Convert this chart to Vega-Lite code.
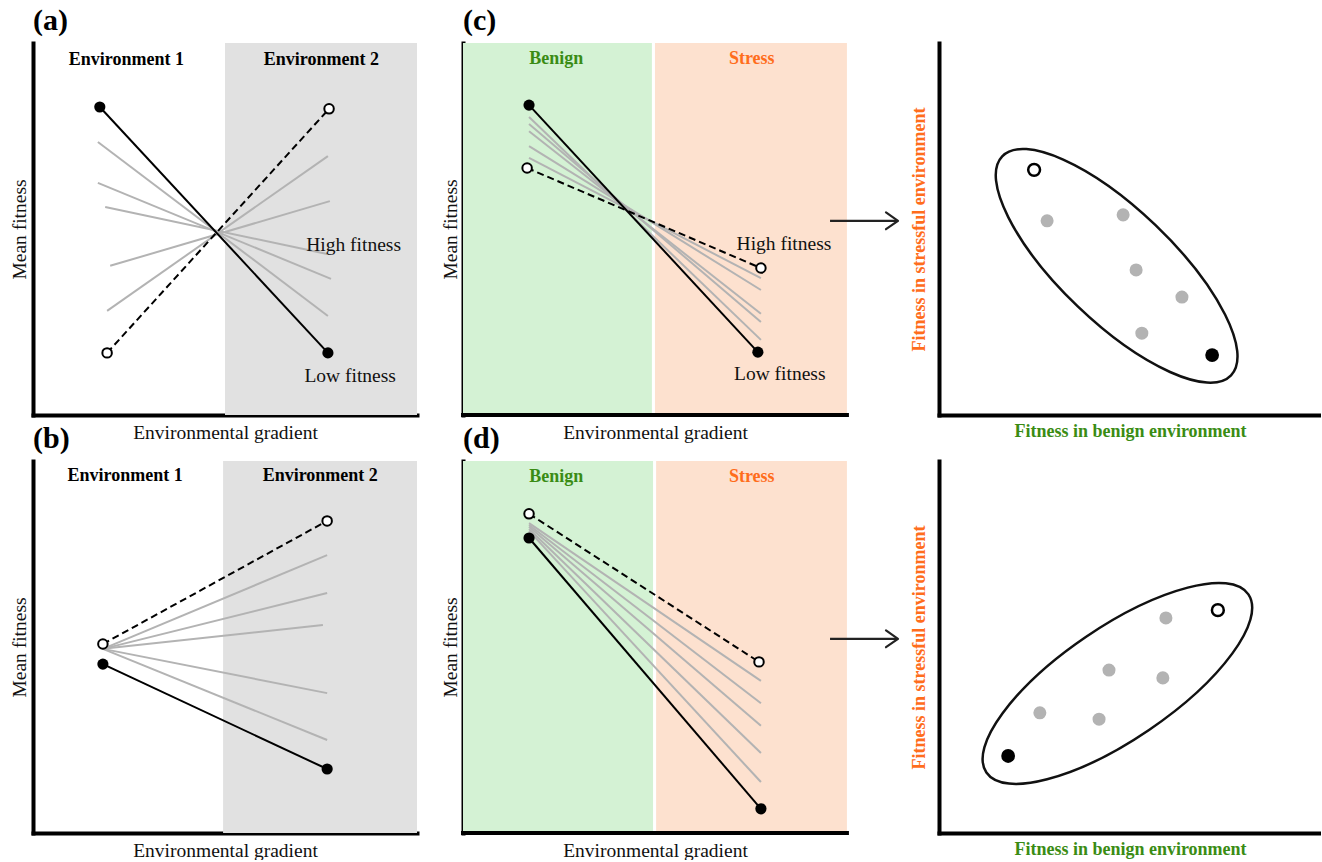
{
  "$schema": "https://vega.github.io/schema/vega-lite/v6.json",
  "padding": {"left": 9, "top": 6, "right": 0, "bottom": 0},
  "config": {
    "view": {"stroke": null},
    "font": "Liberation Serif",
    "axis": {"labels": false, "ticks": false, "grid": false, "domainColor": "#000", "domainWidth": 4, "domainCap": "square", "zindex": 1, "titleFont": "Liberation Serif", "titleFontSize": 19.5, "titleFontWeight": "normal", "titleColor": "#111"},
    "title": {"anchor": "start", "frame": "group", "font": "Liberation Serif", "fontSize": 30, "fontWeight": "bold", "baseline": "alphabetic", "offset": 7, "color": "#000"}
  },
  "datasets": {
    "a": [
      {"part": "bg", "x": 50, "x2": 100, "y": 0, "y2": 100},
      {"part": "grey", "id": "g1", "x": 16.9, "y": 73.4}, {"part": "grey", "id": "g1", "x": 76.8, "y": 26.6},
      {"part": "grey", "id": "g2", "x": 16.9, "y": 62.4}, {"part": "grey", "id": "g2", "x": 77.6, "y": 36.6},
      {"part": "grey", "id": "g3", "x": 18.8, "y": 55.9}, {"part": "grey", "id": "g3", "x": 76.6, "y": 43.3},
      {"part": "grey", "id": "g4", "x": 20.1, "y": 40.1}, {"part": "grey", "id": "g4", "x": 77.3, "y": 57.5},
      {"part": "grey", "id": "g5", "x": 19.3, "y": 28.0}, {"part": "grey", "id": "g5", "x": 76.8, "y": 69.6},
      {"part": "solid", "x": 17.4, "y": 82.8}, {"part": "solid", "x": 76.8, "y": 16.7},
      {"part": "dashed", "x": 19.3, "y": 16.7}, {"part": "dashed", "x": 77.1, "y": 82.3},
      {"part": "fill", "x": 17.4, "y": 82.8}, {"part": "fill", "x": 76.8, "y": 16.7},
      {"part": "open", "x": 19.3, "y": 16.7}, {"part": "open", "x": 77.1, "y": 82.3},
      {"part": "head", "x": 24.3, "y": 95.3, "label": "Environment 1"}, {"part": "head", "x": 75.1, "y": 95.3, "label": "Environment 2"},
      {"part": "note", "x": 83.5, "y": 45.6, "label": "High fitness"}, {"part": "note", "x": 82.6, "y": 10.6, "label": "Low fitness"}
    ],
    "b": [
      {"part": "bg", "x": 49.5, "x2": 100, "y": 0, "y2": 100},
      {"part": "grey", "id": "g1", "x": 18.2, "y": 49.5}, {"part": "grey", "id": "g1", "x": 76.6, "y": 74.7},
      {"part": "grey", "id": "g2", "x": 18.2, "y": 49.5}, {"part": "grey", "id": "g2", "x": 76.6, "y": 64.5},
      {"part": "grey", "id": "g3", "x": 18.2, "y": 49.5}, {"part": "grey", "id": "g3", "x": 75.5, "y": 55.9},
      {"part": "grey", "id": "g4", "x": 18.2, "y": 49.5}, {"part": "grey", "id": "g4", "x": 76.6, "y": 37.6},
      {"part": "grey", "id": "g5", "x": 18.2, "y": 49.5}, {"part": "grey", "id": "g5", "x": 76.6, "y": 25.0},
      {"part": "solid", "x": 18.2, "y": 45.4}, {"part": "solid", "x": 76.6, "y": 17.2},
      {"part": "dashed", "x": 18.2, "y": 50.8}, {"part": "dashed", "x": 76.6, "y": 83.9},
      {"part": "fill", "x": 18.2, "y": 45.4}, {"part": "fill", "x": 76.6, "y": 17.2},
      {"part": "open", "x": 18.2, "y": 50.8}, {"part": "open", "x": 76.6, "y": 83.9},
      {"part": "head", "x": 24.0, "y": 96.0, "label": "Environment 1"}, {"part": "head", "x": 74.8, "y": 96.0, "label": "Environment 2"}
    ],
    "c": [
      {"part": "bg", "zone": "benign", "x": 0, "x2": 49.2, "y": 0, "y2": 100},
      {"part": "bg", "zone": "stress", "x": 50.0, "x2": 100, "y": 0, "y2": 100},
      {"part": "grey", "id": "g1", "x": 17.2, "y": 80.1}, {"part": "grey", "id": "g1", "x": 77.6, "y": 20.2},
      {"part": "grey", "id": "g2", "x": 17.2, "y": 78.2}, {"part": "grey", "id": "g2", "x": 77.6, "y": 25.0},
      {"part": "grey", "id": "g3", "x": 17.2, "y": 76.3}, {"part": "grey", "id": "g3", "x": 77.6, "y": 27.2},
      {"part": "grey", "id": "g4", "x": 17.2, "y": 72.3}, {"part": "grey", "id": "g4", "x": 77.6, "y": 33.6},
      {"part": "grey", "id": "g5", "x": 17.2, "y": 69.1}, {"part": "grey", "id": "g5", "x": 77.6, "y": 36.8},
      {"part": "solid", "x": 17.2, "y": 83.3}, {"part": "solid", "x": 76.8, "y": 16.9},
      {"part": "dashed", "x": 16.7, "y": 66.4}, {"part": "dashed", "x": 77.6, "y": 39.5},
      {"part": "fill", "x": 17.2, "y": 83.3}, {"part": "fill", "x": 76.8, "y": 16.9},
      {"part": "open", "x": 16.7, "y": 66.4}, {"part": "open", "x": 77.6, "y": 39.5},
      {"part": "benign", "x": 24.3, "y": 95.7, "label": "Benign"}, {"part": "stress", "x": 75.2, "y": 95.7, "label": "Stress"},
      {"part": "note", "x": 83.6, "y": 46.1, "label": "High fitness"}, {"part": "note", "x": 82.5, "y": 10.9, "label": "Low fitness"},
      {"part": "arrow", "x": 95.6, "x2": 112.9, "y": 52.2}, {"part": "head2", "x": 113.3, "y": 52.2}
    ],
    "d": [
      {"part": "bg", "zone": "benign", "x": 0, "x2": 49.5, "y": 0, "y2": 100},
      {"part": "bg", "zone": "stress", "x": 50.3, "x2": 100, "y": 0, "y2": 100},
      {"part": "grey", "id": "g1", "x": 17.2, "y": 83.3}, {"part": "grey", "id": "g1", "x": 77.6, "y": 40.9},
      {"part": "grey", "id": "g2", "x": 17.2, "y": 82.8}, {"part": "grey", "id": "g2", "x": 77.6, "y": 34.9},
      {"part": "grey", "id": "g3", "x": 17.2, "y": 82.3}, {"part": "grey", "id": "g3", "x": 77.6, "y": 28.8},
      {"part": "grey", "id": "g4", "x": 17.2, "y": 81.7}, {"part": "grey", "id": "g4", "x": 77.6, "y": 21.5},
      {"part": "grey", "id": "g5", "x": 17.2, "y": 81.2}, {"part": "grey", "id": "g5", "x": 77.6, "y": 13.7},
      {"part": "solid", "x": 17.2, "y": 79.3}, {"part": "solid", "x": 77.6, "y": 6.5},
      {"part": "dashed", "x": 17.2, "y": 85.8}, {"part": "dashed", "x": 77.1, "y": 46.0},
      {"part": "fill", "x": 17.2, "y": 79.3}, {"part": "fill", "x": 77.6, "y": 6.5},
      {"part": "open", "x": 17.2, "y": 85.8}, {"part": "open", "x": 77.1, "y": 46.0},
      {"part": "benign", "x": 24.3, "y": 95.7, "label": "Benign"}, {"part": "stress", "x": 75.2, "y": 95.7, "label": "Stress"},
      {"part": "arrow", "x": 95.6, "x2": 112.9, "y": 52.2}, {"part": "head2", "x": 113.3, "y": 52.2}
    ],
    "e": [
      {"part": "ell", "x": 46.5, "y": 40.1},
      {"part": "grey", "x": 28.3, "y": 52.2}, {"part": "grey", "x": 48.2, "y": 53.8}, {"part": "grey", "x": 51.6, "y": 39.0},
      {"part": "grey", "x": 63.6, "y": 31.7}, {"part": "grey", "x": 53.1, "y": 22.0},
      {"part": "fill", "x": 71.5, "y": 16.1},
      {"part": "open", "x": 24.9, "y": 65.9}
    ],
    "f": [
      {"part": "ell", "x": 46.7, "y": 40.2},
      {"part": "grey", "x": 59.4, "y": 57.8}, {"part": "grey", "x": 44.5, "y": 43.8}, {"part": "grey", "x": 58.6, "y": 41.7},
      {"part": "grey", "x": 26.4, "y": 32.3}, {"part": "grey", "x": 41.9, "y": 30.6},
      {"part": "fill", "x": 18.1, "y": 20.7},
      {"part": "open", "x": 73.0, "y": 59.9}
    ]
  },
  "columns": 3,
  "spacing": 46,
  "bounds": "flush",
  "align": "each",
  "concat": [
    {
      "width": 384, "height": 372,
      "title": {"text": "(a)"},
      "encoding": {
        "x": {"field": "x", "type": "quantitative", "scale": {"domain": [0, 100]}, "axis": {"title": "Environmental gradient", "titlePadding": 8.5}},
        "y": {"field": "y", "type": "quantitative", "scale": {"domain": [0, 100]}, "axis": {"title": "Mean fitness", "titlePadding": 4}}
      },
      "layer": [
        {"data": {"name": "a"}, "transform": [{"filter": "datum.part == 'bg'"}], "mark": {"type": "rect", "color": "#e1e1e1"}, "encoding": {"x2": {"field": "x2"}, "y2": {"field": "y2"}}},
        {"data": {"name": "a"}, "transform": [{"filter": "datum.part == 'grey'"}], "mark": {"type": "line", "color": "#b3b3b3", "strokeWidth": 2}, "encoding": {"detail": {"field": "id"}}},
        {"data": {"name": "a"}, "transform": [{"filter": "datum.part == 'solid'"}], "mark": {"type": "line", "color": "#000", "strokeWidth": 2}, "encoding": {}},
        {"data": {"name": "a"}, "transform": [{"filter": "datum.part == 'dashed'"}], "mark": {"type": "line", "color": "#000", "strokeWidth": 2, "strokeDash": [7, 4]}, "encoding": {}},
        {"data": {"name": "a"}, "transform": [{"filter": "datum.part == 'fill'"}], "mark": {"type": "point", "shape": "circle", "filled": true, "color": "#000", "size": 125, "opacity": 1}},
        {"data": {"name": "a"}, "transform": [{"filter": "datum.part == 'open'"}], "mark": {"type": "point", "shape": "circle", "filled": true, "fill": "#fff", "stroke": "#000", "strokeWidth": 2, "size": 90, "opacity": 1}},
        {"data": {"name": "a"}, "transform": [{"filter": "datum.part == 'head'"}], "mark": {"type": "text", "font": "Liberation Serif", "fontWeight": "bold", "fontSize": 18, "baseline": "middle", "color": "#000"}, "encoding": {"text": {"field": "label"}}},
        {"data": {"name": "a"}, "transform": [{"filter": "datum.part == 'note'"}], "mark": {"type": "text", "font": "Liberation Serif", "fontSize": 19.5, "baseline": "middle", "color": "#111"}, "encoding": {"text": {"field": "label"}}}
      ]
    },
    {
      "width": 430, "height": 372,
      "title": {"text": "(c)"},
      "encoding": {
        "x": {"field": "x", "type": "quantitative", "scale": {"domain": [0, 112]}, "axis": {"title": "Environmental gradient", "titlePadding": 8.5, "domain": false, "titleX": 192}},
        "y": {"field": "y", "type": "quantitative", "scale": {"domain": [0, 100]}, "axis": {"title": "Mean fitness", "titlePadding": 3}}
      },
      "layer": [
        {"data": {"name": "c"}, "transform": [{"filter": "datum.part == 'bg'"}], "mark": {"type": "rect"}, "encoding": {"x2": {"field": "x2"}, "y2": {"field": "y2"}, "color": {"field": "zone", "type": "nominal", "scale": {"domain": ["benign", "stress"], "range": ["#d4f2d4", "#fde1cf"]}, "legend": null}}},
        {"data": {"values": [{"x": 0, "x2": 100, "y": 0}]}, "mark": {"type": "rule", "color": "#000", "strokeWidth": 4, "strokeCap": "square"}, "encoding": {"x2": {"field": "x2"}}},
        {"data": {"name": "c"}, "transform": [{"filter": "datum.part == 'grey'"}], "mark": {"type": "line", "color": "#b3b3b3", "strokeWidth": 2}, "encoding": {"detail": {"field": "id"}}},
        {"data": {"name": "c"}, "transform": [{"filter": "datum.part == 'solid'"}], "mark": {"type": "line", "color": "#000", "strokeWidth": 2}, "encoding": {}},
        {"data": {"name": "c"}, "transform": [{"filter": "datum.part == 'dashed'"}], "mark": {"type": "line", "color": "#000", "strokeWidth": 2, "strokeDash": [7, 4]}, "encoding": {}},
        {"data": {"name": "c"}, "transform": [{"filter": "datum.part == 'fill'"}], "mark": {"type": "point", "shape": "circle", "filled": true, "color": "#000", "size": 125, "opacity": 1}},
        {"data": {"name": "c"}, "transform": [{"filter": "datum.part == 'open'"}], "mark": {"type": "point", "shape": "circle", "filled": true, "fill": "#fff", "stroke": "#000", "strokeWidth": 2, "size": 90, "opacity": 1}},
        {"data": {"name": "c"}, "transform": [{"filter": "datum.part == 'benign'"}], "mark": {"type": "text", "font": "Liberation Serif", "fontWeight": "bold", "fontSize": 18, "baseline": "middle", "color": "#3a8c14"}, "encoding": {"text": {"field": "label"}}},
        {"data": {"name": "c"}, "transform": [{"filter": "datum.part == 'stress'"}], "mark": {"type": "text", "font": "Liberation Serif", "fontWeight": "bold", "fontSize": 18, "baseline": "middle", "color": "#ff6d1c"}, "encoding": {"text": {"field": "label"}}},
        {"data": {"name": "c"}, "transform": [{"filter": "datum.part == 'note'"}], "mark": {"type": "text", "font": "Liberation Serif", "fontSize": 19.5, "baseline": "middle", "color": "#111"}, "encoding": {"text": {"field": "label"}}},
        {"data": {"name": "c"}, "transform": [{"filter": "datum.part == 'arrow'"}], "mark": {"type": "rule", "color": "#222", "strokeWidth": 2.2}, "encoding": {"x2": {"field": "x2"}}},
        {"data": {"name": "c"}, "transform": [{"filter": "datum.part == 'head2'"}], "mark": {"type": "point", "shape": "M -1 -0.7 L 0 0 L -1 0.7", "filled": false, "color": "#222", "strokeWidth": 2.2, "size": 576, "opacity": 1, "strokeCap": "round", "strokeJoin": "round"}}
      ]
    },
    {
      "width": 382, "height": 372,
      "encoding": {
        "x": {"field": "x", "type": "quantitative", "scale": {"domain": [0, 100]}, "axis": {"title": "Fitness in benign environment", "titlePadding": 7.7, "titleColor": "#3a8c14", "titleFontWeight": "bold", "titleFontSize": 18}},
        "y": {"field": "y", "type": "quantitative", "scale": {"domain": [0, 100]}, "axis": {"title": "Fitness in stressful environment", "titlePadding": 11, "titleColor": "#ff6d1c", "titleFontWeight": "bold", "titleFontSize": 18}}
      },
      "layer": [
        {"data": {"name": "e"}, "transform": [{"filter": "datum.part == 'ell'"}], "mark": {"type": "point", "shape": "M -1 0 C -1 -0.196 -0.5523 -0.355 0 -0.355 C 0.5523 -0.355 1 -0.196 1 0 C 1 0.196 0.5523 0.355 0 0.355 C -0.5523 0.355 -1 0.196 -1 0 Z", "filled": false, "color": "#111", "strokeWidth": 2.5, "size": 100362, "angle": 43.75, "opacity": 1}},
        {"data": {"name": "e"}, "transform": [{"filter": "datum.part == 'grey'"}], "mark": {"type": "point", "shape": "circle", "filled": true, "color": "#b3b3b3", "size": 170, "opacity": 1}},
        {"data": {"name": "e"}, "transform": [{"filter": "datum.part == 'fill'"}], "mark": {"type": "point", "shape": "circle", "filled": true, "color": "#000", "size": 190, "opacity": 1}},
        {"data": {"name": "e"}, "transform": [{"filter": "datum.part == 'open'"}], "mark": {"type": "point", "shape": "circle", "filled": true, "fill": "#fff", "stroke": "#000", "strokeWidth": 2.5, "size": 140, "opacity": 1}}
      ]
    },
    {
      "width": 384, "height": 372,
      "title": {"text": "(b)"},
      "encoding": {
        "x": {"field": "x", "type": "quantitative", "scale": {"domain": [0, 100]}, "axis": {"title": "Environmental gradient", "titlePadding": 8.5}},
        "y": {"field": "y", "type": "quantitative", "scale": {"domain": [0, 100]}, "axis": {"title": "Mean fitness", "titlePadding": 4}}
      },
      "layer": [
        {"data": {"name": "b"}, "transform": [{"filter": "datum.part == 'bg'"}], "mark": {"type": "rect", "color": "#e1e1e1"}, "encoding": {"x2": {"field": "x2"}, "y2": {"field": "y2"}}},
        {"data": {"name": "b"}, "transform": [{"filter": "datum.part == 'grey'"}], "mark": {"type": "line", "color": "#b3b3b3", "strokeWidth": 2}, "encoding": {"detail": {"field": "id"}}},
        {"data": {"name": "b"}, "transform": [{"filter": "datum.part == 'solid'"}], "mark": {"type": "line", "color": "#000", "strokeWidth": 2}, "encoding": {}},
        {"data": {"name": "b"}, "transform": [{"filter": "datum.part == 'dashed'"}], "mark": {"type": "line", "color": "#000", "strokeWidth": 2, "strokeDash": [7, 4]}, "encoding": {}},
        {"data": {"name": "b"}, "transform": [{"filter": "datum.part == 'fill'"}], "mark": {"type": "point", "shape": "circle", "filled": true, "color": "#000", "size": 125, "opacity": 1}},
        {"data": {"name": "b"}, "transform": [{"filter": "datum.part == 'open'"}], "mark": {"type": "point", "shape": "circle", "filled": true, "fill": "#fff", "stroke": "#000", "strokeWidth": 2, "size": 90, "opacity": 1}},
        {"data": {"name": "b"}, "transform": [{"filter": "datum.part == 'head'"}], "mark": {"type": "text", "font": "Liberation Serif", "fontWeight": "bold", "fontSize": 18, "baseline": "middle", "color": "#000"}, "encoding": {"text": {"field": "label"}}}
      ]
    },
    {
      "width": 430, "height": 372,
      "title": {"text": "(d)"},
      "encoding": {
        "x": {"field": "x", "type": "quantitative", "scale": {"domain": [0, 112]}, "axis": {"title": "Environmental gradient", "titlePadding": 8.5, "domain": false, "titleX": 192}},
        "y": {"field": "y", "type": "quantitative", "scale": {"domain": [0, 100]}, "axis": {"title": "Mean fitness", "titlePadding": 3}}
      },
      "layer": [
        {"data": {"name": "d"}, "transform": [{"filter": "datum.part == 'bg'"}], "mark": {"type": "rect"}, "encoding": {"x2": {"field": "x2"}, "y2": {"field": "y2"}, "color": {"field": "zone", "type": "nominal", "scale": {"domain": ["benign", "stress"], "range": ["#d4f2d4", "#fde1cf"]}, "legend": null}}},
        {"data": {"values": [{"x": 0, "x2": 100, "y": 0}]}, "mark": {"type": "rule", "color": "#000", "strokeWidth": 4, "strokeCap": "square"}, "encoding": {"x2": {"field": "x2"}}},
        {"data": {"name": "d"}, "transform": [{"filter": "datum.part == 'grey'"}], "mark": {"type": "line", "color": "#b3b3b3", "strokeWidth": 2}, "encoding": {"detail": {"field": "id"}}},
        {"data": {"name": "d"}, "transform": [{"filter": "datum.part == 'solid'"}], "mark": {"type": "line", "color": "#000", "strokeWidth": 2}, "encoding": {}},
        {"data": {"name": "d"}, "transform": [{"filter": "datum.part == 'dashed'"}], "mark": {"type": "line", "color": "#000", "strokeWidth": 2, "strokeDash": [7, 4]}, "encoding": {}},
        {"data": {"name": "d"}, "transform": [{"filter": "datum.part == 'fill'"}], "mark": {"type": "point", "shape": "circle", "filled": true, "color": "#000", "size": 125, "opacity": 1}},
        {"data": {"name": "d"}, "transform": [{"filter": "datum.part == 'open'"}], "mark": {"type": "point", "shape": "circle", "filled": true, "fill": "#fff", "stroke": "#000", "strokeWidth": 2, "size": 90, "opacity": 1}},
        {"data": {"name": "d"}, "transform": [{"filter": "datum.part == 'benign'"}], "mark": {"type": "text", "font": "Liberation Serif", "fontWeight": "bold", "fontSize": 18, "baseline": "middle", "color": "#3a8c14"}, "encoding": {"text": {"field": "label"}}},
        {"data": {"name": "d"}, "transform": [{"filter": "datum.part == 'stress'"}], "mark": {"type": "text", "font": "Liberation Serif", "fontWeight": "bold", "fontSize": 18, "baseline": "middle", "color": "#ff6d1c"}, "encoding": {"text": {"field": "label"}}},
        {"data": {"name": "d"}, "transform": [{"filter": "datum.part == 'arrow'"}], "mark": {"type": "rule", "color": "#222", "strokeWidth": 2.2}, "encoding": {"x2": {"field": "x2"}}},
        {"data": {"name": "d"}, "transform": [{"filter": "datum.part == 'head2'"}], "mark": {"type": "point", "shape": "M -1 -0.7 L 0 0 L -1 0.7", "filled": false, "color": "#222", "strokeWidth": 2.2, "size": 576, "opacity": 1, "strokeCap": "round", "strokeJoin": "round"}}
      ]
    },
    {
      "width": 382, "height": 372,
      "encoding": {
        "x": {"field": "x", "type": "quantitative", "scale": {"domain": [0, 100]}, "axis": {"title": "Fitness in benign environment", "titlePadding": 7.7, "titleColor": "#3a8c14", "titleFontWeight": "bold", "titleFontSize": 18}},
        "y": {"field": "y", "type": "quantitative", "scale": {"domain": [0, 100]}, "axis": {"title": "Fitness in stressful environment", "titlePadding": 11, "titleColor": "#ff6d1c", "titleFontWeight": "bold", "titleFontSize": 18}}
      },
      "layer": [
        {"data": {"name": "f"}, "transform": [{"filter": "datum.part == 'ell'"}], "mark": {"type": "point", "shape": "M -1 0 C -1 -0.196 -0.5523 -0.355 0 -0.355 C 0.5523 -0.355 1 -0.196 1 0 C 1 0.196 0.5523 0.355 0 0.355 C -0.5523 0.355 -1 0.196 -1 0 Z", "filled": false, "color": "#111", "strokeWidth": 2.5, "size": 100362, "angle": -34.2, "opacity": 1}},
        {"data": {"name": "f"}, "transform": [{"filter": "datum.part == 'grey'"}], "mark": {"type": "point", "shape": "circle", "filled": true, "color": "#b3b3b3", "size": 170, "opacity": 1}},
        {"data": {"name": "f"}, "transform": [{"filter": "datum.part == 'fill'"}], "mark": {"type": "point", "shape": "circle", "filled": true, "color": "#000", "size": 190, "opacity": 1}},
        {"data": {"name": "f"}, "transform": [{"filter": "datum.part == 'open'"}], "mark": {"type": "point", "shape": "circle", "filled": true, "fill": "#fff", "stroke": "#000", "strokeWidth": 2.5, "size": 140, "opacity": 1}}
      ]
    }
  ]
}
